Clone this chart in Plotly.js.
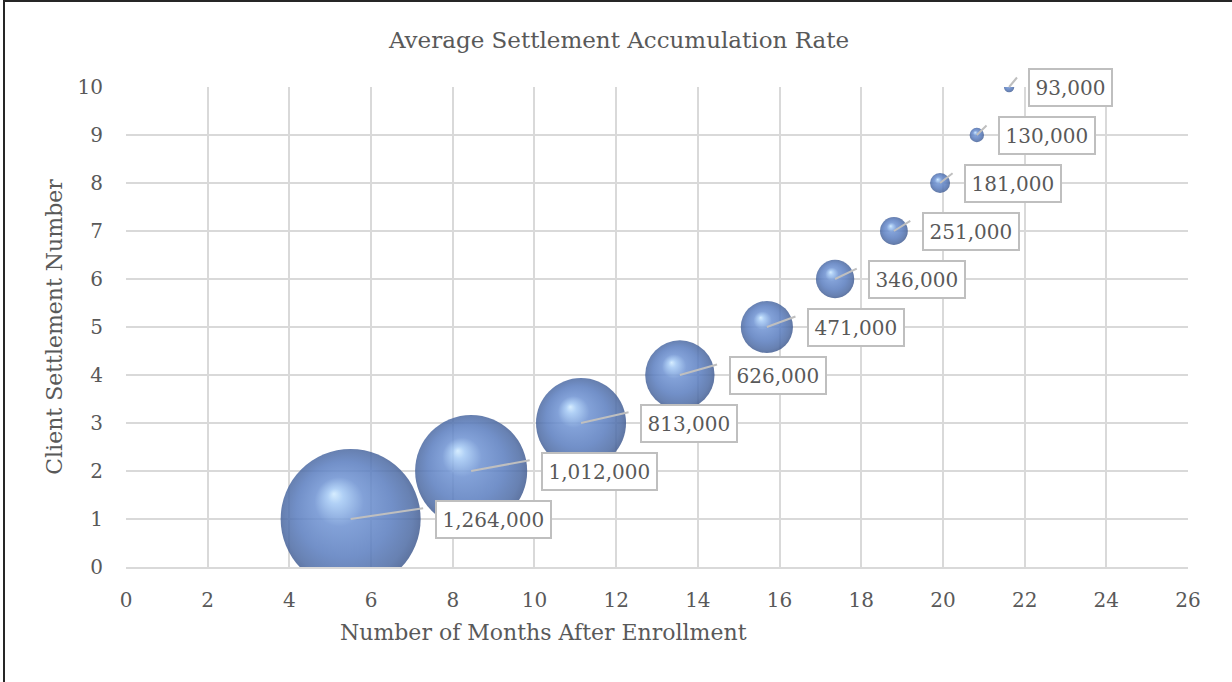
<!DOCTYPE html>
<html>
<head>
<meta charset="utf-8">
<script src="https://cdn.plot.ly/plotly-3.0.1.min.js"></script>
<style>
  html, body { margin: 0; padding: 0; background: #ffffff; }
  #wrap { position: relative; width: 1232px; height: 682px; }
  #chart { width: 1232px; height: 682px; }
  #frame { position: absolute; left: 3px; top: 0; width: 1229px; height: 682px;
           border-left: 2px solid #262626; border-top: 2px solid #262626;
           box-sizing: border-box; pointer-events: none; }
</style>
</head>
<body>
<div id="wrap">
  <div id="chart"></div>
  <div id="frame"></div>
</div>
<script>
// ---- data ----
const monthsAfterEnrollment = [5.5, 8.45, 11.14, 13.56, 15.69, 17.36, 18.8, 19.93, 20.83, 21.62];
const settlementNumber = [1, 2, 3, 4, 5, 6, 7, 8, 9, 10];
const settlementAmount = [1264000, 1012000, 813000, 626000, 471000, 346000, 251000, 181000, 130000, 93000];
const xTickValues = [0, 2, 4, 6, 8, 10, 12, 14, 16, 18, 20, 22, 24, 26];
const yTickValues = [0, 1, 2, 3, 4, 5, 6, 7, 8, 9, 10];

const chartTitle = 'Average Settlement Accumulation Rate';
const xTitle = 'Number of Months After Enrollment';
const yTitle = 'Client Settlement Number';

// ---- styling ----
const FONT = 'DejaVu Serif, Cambria, serif';
const TXT = '#595959';
const GRID = '#d9d9d9';
const BIGGEST_DIAMETER = 140;
const sizeref = Math.max(...settlementAmount) / BIGGEST_DIAMETER;

const fmt = v => v.toLocaleString('en-US');

const trace = {
  type: 'scatter',
  mode: 'markers',
  x: monthsAfterEnrollment,
  y: settlementNumber,
  marker: {
    size: settlementAmount,
    sizemode: 'diameter',
    sizeref: sizeref,
    color: '#5b7fc3',
    opacity: 0.92,
    line: { width: 0 }
  },
  hoverinfo: 'x+y+text',
  text: settlementAmount.map(fmt),
  cliponaxis: true
};

const annotations = [];
settlementAmount.forEach((v, i) => {
  const r = v / sizeref / 2;
  // leader line
  annotations.push({
    x: monthsAfterEnrollment[i], y: settlementNumber[i], xref: 'x', yref: 'y',
    text: '', showarrow: true, arrowhead: 0, arrowwidth: 2, arrowcolor: '#bfbfbf',
    ax: r + 4, ay: -11, standoff: 0, startstandoff: 0
  });
  // label box
  annotations.push({
    x: monthsAfterEnrollment[i], y: settlementNumber[i], xref: 'x', yref: 'y',
    text: fmt(v), showarrow: false, xanchor: 'left', yanchor: 'middle',
    xshift: r + 14,
    font: { family: FONT, size: 20, color: TXT },
    bgcolor: '#ffffff', bordercolor: '#bfbfbf', borderwidth: 2, borderpad: 5.5
  });
});

// x axis title (offset left as in the reference)
annotations.push({
  xref: 'paper', yref: 'paper', x: (543 - 126) / 1062, y: 0,
  yshift: -65, xanchor: 'center', yanchor: 'middle', showarrow: false,
  text: xTitle, font: { family: FONT, size: 22, color: TXT }
});

const layout = {
  width: 1232, height: 682,
  margin: { l: 126, r: 44, t: 87, b: 115 },
  paper_bgcolor: '#ffffff', plot_bgcolor: '#ffffff',
  showlegend: false,
  font: { family: FONT, size: 20, color: TXT },
  title: {
    text: chartTitle, xref: 'paper', x: (619 - 126) / 1062, xanchor: 'center',
    yref: 'container', y: 1 - 40 / 682, yanchor: 'middle',
    font: { family: FONT, size: 23, color: TXT }
  },
  xaxis: {
    range: [0, 26], tickvals: xTickValues, ticktext: xTickValues.map(String),
    showgrid: true, gridcolor: GRID, gridwidth: 2, zeroline: false,
    showline: true, linecolor: GRID, linewidth: 2,
    ticks: 'outside', ticklen: 14, tickcolor: 'rgba(0,0,0,0)',
    tickfont: { family: FONT, size: 20, color: TXT }, fixedrange: true
  },
  yaxis: {
    range: [0, 10], tickvals: yTickValues, ticktext: yTickValues.map(String),
    showgrid: true, gridcolor: GRID, gridwidth: 2, zeroline: false,
    showline: false,
    ticks: 'outside', ticklen: 18, tickcolor: 'rgba(0,0,0,0)',
    tickfont: { family: FONT, size: 20, color: TXT },
    title: { text: yTitle, standoff: 8, font: { family: FONT, size: 22, color: TXT } },
    fixedrange: true
  },
  annotations: annotations
};

Plotly.newPlot('chart', [trace], layout, { displayModeBar: false, staticPlot: true }).then(gd => {
  // sphere-like shading: radial gradient with an off-centre highlight
  const svg = gd.querySelector('svg.main-svg');
  const NS = 'http://www.w3.org/2000/svg';
  let defs = svg.querySelector('defs');
  if (!defs) { defs = document.createElementNS(NS, 'defs'); svg.insertBefore(defs, svg.firstChild); }
  const g = document.createElementNS(NS, 'radialGradient');
  g.setAttribute('id', 'sphereShade');
  g.setAttribute('cx', '0.5'); g.setAttribute('cy', '0.5'); g.setAttribute('r', '0.55');
  g.setAttribute('fx', '0.38'); g.setAttribute('fy', '0.32');
  [['0', '#cfeaff'], ['0.1', '#a3c8f4'], ['0.32', '#6d91d1'], ['0.62', '#5a7dbf'], ['0.84', '#4e6ca5'], ['1', '#3b5283']]
    .forEach(([o, c]) => {
      const s = document.createElementNS(NS, 'stop');
      s.setAttribute('offset', o); s.setAttribute('stop-color', c);
      g.appendChild(s);
    });
  defs.appendChild(g);
  gd.querySelectorAll('.scatterlayer .points path.point').forEach(p => {
    p.style.fill = 'url(#sphereShade)';
    p.style.fillOpacity = '0.93';
  });
});
</script>
</body>
</html>
